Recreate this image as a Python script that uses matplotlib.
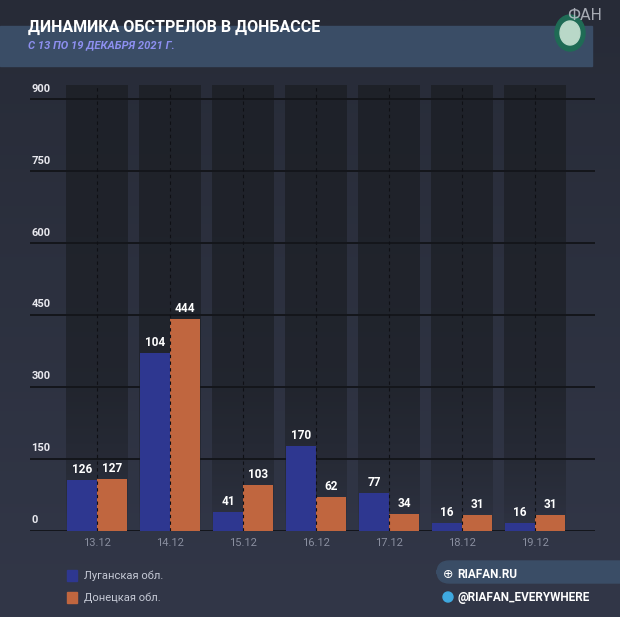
import matplotlib.pyplot as plt
from matplotlib.patches import FancyBboxPatch, Rectangle, Ellipse
from matplotlib.colors import LinearSegmentedColormap
import numpy as np

dates = ["13.12", "14.12", "15.12", "16.12", "17.12", "18.12", "19.12"]
# bar heights as drawn in the picture
lug_height = [106, 372, 40, 178, 80, 17, 17]
don_height = [109, 443, 96, 71, 36, 33, 33]
# value labels printed over the bars
lug_label = [126, 104, 41, 170, 77, 16, 16]
don_label = [127, 444, 103, 62, 34, 31, 31]
yticks = [0, 150, 300, 450, 600, 750, 900]

W, H = 620, 617
fig = plt.figure(figsize=(W / 100, H / 100), dpi=100)
fig.patch.set_facecolor("#2a2e3b")

# background gradient
bg = fig.add_axes([0, 0, 1, 1], zorder=-10)
grad = np.linspace(0, 1, 256).reshape(-1, 1)
bg.imshow(grad, cmap=LinearSegmentedColormap.from_list("bg", ["#272b37", "#323748"]),
          aspect="auto", extent=[0, 1, 0, 1])
bg.set_xlim(0, 1); bg.set_ylim(0, 1); bg.axis("off")
bg.add_patch(Rectangle((0, 1 - 66 / H), 592 / W, 40 / H, color="#3a4d66"))
bg.add_patch(Ellipse((570 / W, 1 - 33 / H), 30 / W, 36 / H, color="#1f6b55"))
bg.add_patch(Ellipse((570 / W, 1 - 33 / H), 20 / W, 24 / H, color="#b9d8c8"))

fig.text(28 / W, 1 - 27 / H, "ДИНАМИКА ОБСТРЕЛОВ В ДОНБАССЕ", color="white",
         fontsize=11.5, fontweight="bold", va="center", family="Roboto")
fig.text(28 / W, 1 - 45 / H, "С 13 ПО 19 ДЕКАБРЯ 2021 Г.", color="#8d8ff0",
         fontsize=8, fontweight="bold", style="italic", va="center", family="Roboto")
fig.text(585 / W, 1 - 16 / H, "ФАН", color="#c8ccd4", fontsize=11, va="center",
         ha="center", alpha=0.8)

ax = fig.add_axes([30 / W, (H - 531) / H, 565 / W, 446 / H])
ax.set_facecolor("none")
ax.set_xlim(-0.918, 6.82)
ax.set_ylim(0, 930)
for s in ax.spines.values():
    s.set_visible(False)
ax.set_xticks([]); ax.set_yticks([])

x = np.arange(len(dates))
bw = 0.41
col_cmap = LinearSegmentedColormap.from_list(
    "col", [(0.12, 0.13, 0.16, 0.0), (0.12, 0.13, 0.16, 0.75), (0.12, 0.13, 0.16, 0.95)])
for xi in x:
    ax.imshow(np.linspace(1, 0, 200).reshape(-1, 1) ** 0.6, cmap=col_cmap,
              aspect="auto", extent=[xi - 0.42, xi + 0.42, 0, 930],
              origin="lower" if False else "upper", zorder=0, vmin=0, vmax=1)
ax.set_xlim(-0.918, 6.82)
ax.set_ylim(0, 930)
for v in yticks:
    ax.axhline(v, color="#14161b", lw=1.4, zorder=1)
    ax.text(-0.9, v + 12, str(v), color="#e8e8ee", fontsize=8, fontweight="bold",
            va="bottom", ha="left", family="Roboto")
ax.bar(x - bw / 2, lug_height, width=bw, color="#2e3790", zorder=2)
ax.bar(x + bw / 2, don_height, width=bw, color="#c0663f", zorder=2)
for xi in x:
    ax.axvline(xi, color="#0f1015", lw=0.8, ls=(0, (3, 3)), zorder=3)
for xi, h, l in zip(x, lug_height, lug_label):
    ax.text(xi - bw / 2, h + 8, str(l), color="white", fontsize=8.5,
            fontweight="bold", ha="center", va="bottom", family="Roboto", zorder=4)
for xi, h, l in zip(x, don_height, don_label):
    ax.text(xi + bw / 2, h + 8, str(l), color="white", fontsize=8.5,
            fontweight="bold", ha="center", va="bottom", family="Roboto", zorder=4)
for xi, d in zip(x, dates):
    ax.text(xi, -25, d, color="#8a8fa0", fontsize=8, ha="center", va="center",
            family="Roboto", clip_on=False)

# legend
for yy, col, lab in [(576, "#2e3790", "Луганская обл."), (598, "#c0663f", "Донецкая обл.")]:
    bg.add_patch(Rectangle((67 / W, 1 - (yy + 5) / H), 10 / W, 11 / H, color=col))
    fig.text(84 / W, 1 - yy / H, lab, color="#c8ccd8", fontsize=8, va="center",
             family="Roboto")

bg.add_patch(FancyBboxPatch((437 / W, 1 - 583 / H), 200 / W, 22 / H,
                            boxstyle="round,pad=0,rounding_size=0.02",
                            color="#3a4d66"))
fig.text(443 / W, 1 - 574 / H, "⊕", color="white", fontsize=9, va="center")
fig.text(457 / W, 1 - 574 / H, "RIAFAN.RU", color="white", fontsize=8.5,
         fontweight="bold", va="center", family="Roboto")
bg.add_patch(Ellipse((448 / W, 1 - 597 / H), 10 / W, 10 / H, color="#3fa9e0"))
fig.text(457 / W, 1 - 597 / H, "@RIAFAN_EVERYWHERE", color="white", fontsize=8.5,
         fontweight="bold", va="center", family="Roboto")

fig.savefig("out.png", dpi=100, facecolor=fig.get_facecolor())
